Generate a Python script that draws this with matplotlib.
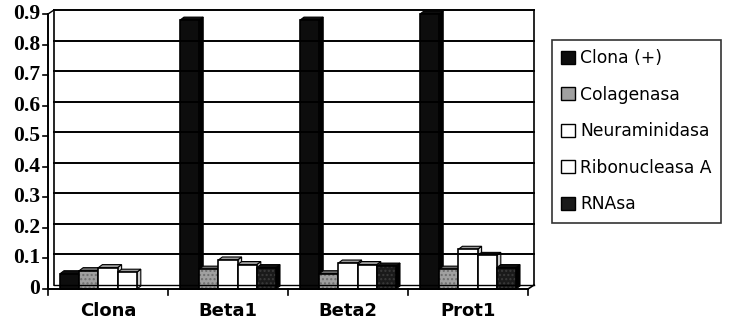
import matplotlib.pyplot as plt
import matplotlib.transforms as mtransforms
from matplotlib.patches import Polygon, Rectangle, Patch

# -----------------------------
# Data
# -----------------------------
categories = ["Clona", "Beta1", "Beta2", "Prot1"]
series = ["Clona (+)", "Colagenasa", "Neuraminidasa", "Ribonucleasa A", "RNAsa"]
clona_pos = [0.05, 0.88, 0.88, 0.90]
colagenasa = [0.06, 0.065, 0.05, 0.065]
neuraminidasa = [0.07, 0.095, 0.085, 0.13]
ribonucleasa = [0.055, 0.08, 0.08, 0.11]
rnasa = [0.0, 0.07, 0.075, 0.07]
yticks = [0, 0.1, 0.2, 0.3, 0.4, 0.5, 0.6, 0.7, 0.8, 0.9]
ytick_labels = ["0", "0.1", "0.2", "0.3", "0.4", "0.5", "0.6", "0.7", "0.8", "0.9"]

values = [clona_pos, colagenasa, neuraminidasa, ribonucleasa, rnasa]
face = ["#0d0d0d", "#a0a0a0", "#ffffff", "#ffffff", "#1a1a1a"]
top_face = ["#0d0d0d", "#6a6a6a", "#9a9a9a", "#9a9a9a", "#111111"]
side_face = ["#000000", "#555555", "#cccccc", "#cccccc", "#000000"]
hatches = [None, "....", None, None, "...."]
hatch_col = [None, "#6e6e6e", None, None, "#3a3a3a"]

W, H = 732, 326
fig = plt.figure(figsize=(W / 100, H / 100), dpi=100)

# front plane of the plot area in pixels
left, right, bottom, top = 48, 528, 289, 14
ax = fig.add_axes([left / W, 1 - bottom / H, (right - left) / W, (bottom - top) / H])
ax.set_xlim(0, len(categories))
ax.set_ylim(0, 0.9)
ax.axis("off")

# back wall offset (pixels)
WDX, WDY = 6, 4
back = ax.transData + mtransforms.ScaledTranslation(WDX / 100, WDY / 100, fig.dpi_scale_trans)
nc = len(categories)

# back wall gridlines and edges
for y in yticks[1:]:
    ax.plot([0, nc], [y, y], color="black", lw=1.4, transform=back, clip_on=False)
ax.plot([0, 0], [0, 0.9], color="black", lw=1.2, transform=back, clip_on=False)
ax.plot([nc, nc], [0, 0.9], color="black", lw=1.2, transform=back, clip_on=False)
ax.plot([0, nc], [0, 0], color="black", lw=1.0, transform=back, clip_on=False)

# front axes
ax.plot([0, 0], [0, 0.9], color="black", lw=1.4, clip_on=False)
ax.plot([0, nc], [0, 0], color="black", lw=1.4, clip_on=False)
# floor side edge
dxw = WDX / (right - left) * nc
dyw = WDY / (bottom - top) * 0.9
ax.plot([nc, nc + dxw], [0, dyw], color="black", lw=1.2, clip_on=False)
ax.plot([0, dxw], [0.9, 0.9 + dyw], color="black", lw=1.0, clip_on=False)

# y ticks
for y, lab in zip(yticks, ytick_labels):
    ax.plot([-5 / (right - left) * nc, 0], [y, y], color="black", lw=1.2, clip_on=False)
    ax.text(-8 / (right - left) * nc, y, lab, ha="right", va="center",
            fontsize=15.5, fontweight="bold", family="Liberation Serif")

# category ticks and labels
for i in range(nc + 1):
    ax.plot([i, i], [0, -6 / (bottom - top) * 0.9], color="black", lw=1.2, clip_on=False)
for i, c in enumerate(categories):
    ax.text(i + 0.5, -0.072, c, ha="center", va="center",
            fontsize=13, fontweight="bold", family="DejaVu Sans")


def stippled(xy, w, h, si, **kw):
    # flat fill, optional dotted texture, black outline
    ax.add_patch(Rectangle(xy, w, h, facecolor=face[si], edgecolor="none", clip_on=False, **kw))
    if hatches[si]:
        ax.add_patch(Rectangle(xy, w, h, facecolor="none", edgecolor=hatch_col[si], lw=0,
                               hatch=hatches[si], clip_on=False, **kw))
    ax.add_patch(Rectangle(xy, w, h, facecolor="none", edgecolor="black", lw=1.2, clip_on=False, **kw))


# bars with a shallow 3D depth
BDX, BDY = 4, 3
bdx = BDX / (right - left) * nc
bdy = BDY / (bottom - top) * 0.9
bw = 0.16
start = 0.1
for ci in range(nc):
    for si, vals in enumerate(values):
        x0 = ci + start + si * bw
        h = vals[ci]
        if h <= 0:
            continue
        # side face
        ax.add_patch(Polygon([[x0 + bw, 0], [x0 + bw + bdx, bdy], [x0 + bw + bdx, h + bdy], [x0 + bw, h]],
                             closed=True, facecolor=side_face[si], edgecolor="black", lw=0.8, clip_on=False))
        # top face
        ax.add_patch(Polygon([[x0, h], [x0 + bw, h], [x0 + bw + bdx, h + bdy], [x0 + bdx, h + bdy]],
                             closed=True, facecolor=top_face[si], edgecolor="black", lw=0.8, clip_on=False))
        # front face
        stippled((x0, 0), bw, h, si)

# legend
handles = [Patch(facecolor=face[i], edgecolor="black", label=series[i]) for i in range(len(series))]
leg = fig.legend(handles=handles, loc="upper left", bbox_to_anchor=(552 / W, 1 - 40 / H),
                 frameon=True, fancybox=False, fontsize=12.3, handlelength=0.8,
                 handleheight=0.8, handletextpad=0.3, labelspacing=1.08,
                 borderpad=0.55, borderaxespad=0)
leg.get_frame().set_edgecolor("black")
leg.get_frame().set_linewidth(1.2)

plt.savefig("out.png", dpi=100)
plt.close()
